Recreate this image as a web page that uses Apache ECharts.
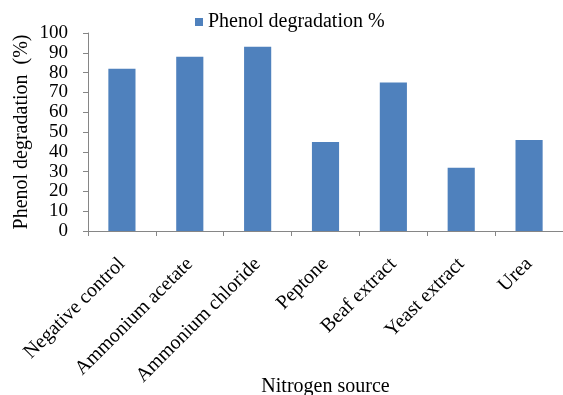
<!DOCTYPE html>
<html><head><meta charset="utf-8">
<script src="https://cdn.jsdelivr.net/npm/echarts@6/dist/echarts.min.js"></script>
<style>html,body{margin:0;padding:0;background:#fff}#c{width:563px;height:395px}</style>
</head><body><div id="c"></div>
<script>
const categories = ["Negative control","Ammonium acetate","Ammonium chloride","Peptone","Beaf extract","Yeast extract","Urea"];
const values = [82, 88, 93, 45, 75, 32, 46];
const seriesName = "Phenol degradation %";
const yTicks = {min: 0, max: 100, interval: 10};
const font = "'Liberation Serif','Times New Roman',serif";
const chart = echarts.init(document.getElementById('c'), null, {renderer:'canvas'});
chart.setOption({
  animation: false,
  legend: {
    top: 7, left: 190, itemWidth: 8, itemHeight: 8, itemGap: 6,
    data: [{name: seriesName, icon: 'rect'}],
    textStyle: {fontFamily: font, fontSize: 20, color: '#000'}
  },
  grid: {left: 88, right: 0, top: 33, bottom: 164, containLabel: false, outerBoundsMode: 'none'},
  xAxis: {
    type: 'category', data: categories, boundaryGap: true,
    axisLine: {lineStyle: {color: '#868686', width: 1}},
    axisTick: {show: true, length: 5, interval: 0, lineStyle: {color: '#868686'}},
    axisLabel: {interval: 0, rotate: 45, fontFamily: font, fontSize: 20, color: '#000', margin: 30},
    name: 'Nitrogen source', nameLocation: 'middle', nameGap: 146, nameMoveOverlap: false,
    nameTextStyle: {fontFamily: font, fontSize: 20, color: '#000'}
  },
  yAxis: {
    type: 'value', min: yTicks.min, max: yTicks.max, interval: yTicks.interval,
    splitLine: {show: false},
    axisLine: {show: true, lineStyle: {color: '#868686', width: 1}},
    axisTick: {show: true, length: 5, lineStyle: {color: '#868686'}},
    axisLabel: {fontFamily: font, fontSize: 19, color: '#000', margin: 20},
    name: 'Phenol degradation  (%)', nameLocation: 'middle', nameGap: 56, nameMoveOverlap: false,
    nameTextStyle: {fontFamily: font, fontSize: 20, color: '#000'}
  },
  series: [{
    name: seriesName, type: 'bar', data: values, barWidth: '40%',
    itemStyle: {color: '#4F81BD'}
  }]
});
</script></body></html>
